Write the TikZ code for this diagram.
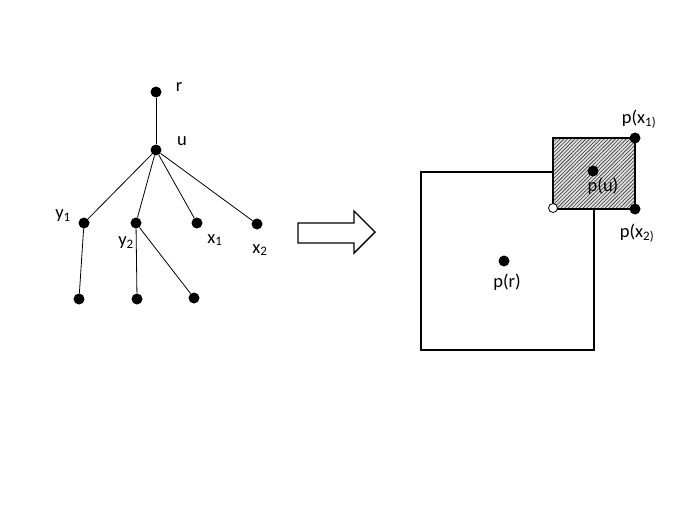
\documentclass[tikz,border=0pt]{standalone}
\usepackage{fontspec}
\setmainfont{Carlito}
\usetikzlibrary{patterns.meta}
\begin{document}
\begin{tikzpicture}[x=1pt,y=-1pt,
  dot/.style={circle,fill=black,inner sep=0pt,minimum size=11pt},
  odot/.style={circle,fill=white,draw=black,line width=0.8pt,inner sep=0pt,minimum size=9pt},
  lbl/.style={inner sep=0pt,font=\fontsize{18.5}{20}\selectfont},
  edge/.style={line width=0.8pt},
  box/.style={line width=1.6pt}]
\useasboundingbox (0,0) rectangle (692,519);
% tree
\node[dot] (r) at (156,92) {};
\node[dot] (u) at (156,150) {};
\node[dot] (y1) at (84,223) {};
\node[dot] (y2) at (136,223) {};
\node[dot] (x1) at (197,223) {};
\node[dot] (x2) at (257,224) {};
\node[dot] (b1) at (79,299) {};
\node[dot] (b2) at (137,299) {};
\node[dot] (b3) at (194,298) {};
\draw[edge] (r) -- (u);
\draw[edge] (u) -- (y1);
\draw[edge] (u) -- (y2);
\draw[edge] (u) -- (x1);
\draw[edge] (u) -- (x2);
\draw[edge] (y1) -- (b1);
\draw[edge] (y2) -- (b2);
\draw[edge] (y2) -- (b3);
\node[lbl] (lr) at (179,87) {r};
\node[lbl] (lu) at (182,141) {u};
\node[lbl] (ly1) at (63,216) {y\textsubscript{1}};
\node[lbl] (ly2) at (126,243) {y\textsubscript{2}};
\node[lbl] (lx1) at (215,240) {x\textsubscript{1}};
\node[lbl] (lx2) at (260,250) {x\textsubscript{2}};
% big arrow
\draw[line width=1.4pt,line join=miter] (298,223) -- (354,223) -- (354,211) -- (375,232) -- (354,253) -- (354,243) -- (298,243) -- cycle;
% squares
\draw[box] (553,172) -- (421,172) -- (421,350) -- (594,350) -- (594,209);
\fill[black!12] (553,138) rectangle (635,209);
\fill[pattern={Lines[angle=45,distance=2.6pt,line width=0.6pt]},pattern color=black!80] (553,138) rectangle (635,209);
\draw[box] (553,138) rectangle (635,209);
\node[dot] (pr) at (504,261) {};
\node[dot] (pu) at (593,171) {};
\node[dot] (px1) at (635,138) {};
\node[dot] (px2) at (635,209) {};
\node[odot] (c) at (553,208) {};
\node[lbl] (lpr) at (507,282) {p(r)};
\node[lbl] (lpu) at (603,186) {p(u)};
\node[lbl] (lpx1) at (639,119) {p(x\textsubscript{1)}};
\node[lbl] (lpx2) at (637,233) {p(x\textsubscript{2)}};
\end{tikzpicture}
\end{document}
